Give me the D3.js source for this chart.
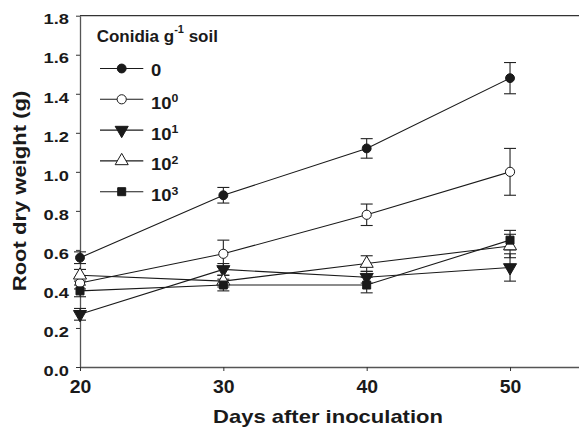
<!DOCTYPE html>
<html>
<head>
<meta charset="utf-8">
<script src="https://cdn.jsdelivr.net/npm/d3@7"></script>
<style>
  body { margin: 0; background: #fff; }
  svg { display: block; font-family: "Liberation Sans", Arial, Helvetica, sans-serif; font-weight: bold; }
</style>
</head>
<body>
<svg id="chart" width="579" height="427"></svg>
<script>
// data
var days = [20, 30, 40, 50];
var xTicks = [20, 30, 40, 50];
var yTicks = [0, 0.2, 0.4, 0.6, 0.8, 1.0, 1.2, 1.4, 1.6, 1.8];
var seriesBase = ["0", "10", "10", "10", "10"];
var seriesExp = ["", "0", "1", "2", "3"];
var mean0 = [0.56, 0.88, 1.12, 1.48];
var err0 = [0.03, 0.04, 0.05, 0.08];
var mean1 = [0.43, 0.58, 0.78, 1.00];
var err1 = [0.03, 0.07, 0.055, 0.12];
var mean2 = [0.27, 0.50, 0.46, 0.51];
var err2 = [0.03, 0.03, 0.03, 0.07];
var mean3 = [0.47, 0.44, 0.53, 0.62];
var err3 = [0.03, 0.03, 0.04, 0.06];
var mean4 = [0.39, 0.42, 0.42, 0.65];
var err4 = [0.03, 0.03, 0.04, 0.05];

var means = [mean0, mean1, mean2, mean3, mean4];
var errs = [err0, err1, err2, err3, err4];
var shapes = [d3.symbolCircle, d3.symbolCircle, d3.symbolTriangle, d3.symbolTriangle, d3.symbolSquare];
var sizes = [62, 66, 74, 74, 64];
var filled = [true, false, true, false, true];
var rotate = [0, 0, 180, 0, 0];

var svg = d3.select("#chart");
var x = d3.scaleLinear().domain([20, 55]).range([80, 581.7]);
var y = d3.scaleLinear().domain([0, 1.8]).range([367, 15.7]);
var ink = "#1a1a1a";
var axisCol = "#555";

// axes
var yAxis = svg.append("g")
  .attr("transform", "translate(80,0)")
  .call(d3.axisLeft(y).tickValues(yTicks).tickFormat(d3.format(".1f")).tickSize(4).tickSizeOuter(0));
yAxis.selectAll("text")
  .attr("x", -9).attr("dy", "0.55em")
  .attr("transform", "scale(1.22,1)")
  .style("font-size", "15px").style("fill", ink);

var xAxis = svg.append("g")
  .attr("transform", "translate(0,367)")
  .call(d3.axisBottom(x).tickValues(xTicks).tickSize(4).tickSizeOuter(0));
xAxis.selectAll("text")
  .attr("y", 26).attr("dy", 0).attr("x", 0)
  .attr("transform", "scale(1.05,1)")
  .style("font-size", "18.5px").style("fill", ink);

svg.selectAll(".domain").attr("stroke", axisCol).attr("stroke-width", 1.3);
svg.selectAll(".tick line").attr("stroke", "#333");

// top spine
svg.append("line")
  .attr("x1", x(20)).attr("x2", x(55))
  .attr("y1", y(1.8)).attr("y2", y(1.8))
  .attr("stroke", "#333").attr("stroke-width", 1.3);

// axis titles
svg.append("text")
  .attr("transform", "translate(328,422.5) scale(1.19,1)")
  .attr("text-anchor", "middle")
  .style("font-size", "18.5px").style("fill", ink)
  .text("Days after inoculation");

svg.append("text")
  .attr("transform", "translate(25.5,191) rotate(-90) scale(1.19,1)")
  .attr("text-anchor", "middle")
  .style("font-size", "18.5px").style("fill", ink)
  .text("Root dry weight (g)");

// lines
var line = d3.line()
  .x(function(d, i) { return x(days[i]); })
  .y(function(d) { return y(d); });

means.forEach(function(m) {
  svg.append("path")
    .datum(m)
    .attr("fill", "none")
    .attr("stroke", ink)
    .attr("stroke-width", 1.1)
    .attr("d", line);
});

// error bars
means.forEach(function(m, s) {
  var g = svg.append("g").attr("stroke", "#222").attr("stroke-width", 1.1);
  m.forEach(function(v, i) {
    var cx = x(days[i]), hi = y(v + errs[s][i]), lo = y(v - errs[s][i]);
    g.append("line").attr("x1", cx).attr("x2", cx).attr("y1", hi).attr("y2", lo);
    g.append("line").attr("x1", cx - 6).attr("x2", cx + 6).attr("y1", hi).attr("y2", hi);
    g.append("line").attr("x1", cx - 6).attr("x2", cx + 6).attr("y1", lo).attr("y2", lo);
  });
});

// markers
function marker(sel, s) {
  sel.attr("d", d3.symbol().type(shapes[s]).size(sizes[s]))
    .attr("fill", filled[s] ? ink : "#fff")
    .attr("stroke", ink)
    .attr("stroke-width", 1);
}

means.forEach(function(m, s) {
  svg.append("g").selectAll("path")
    .data(m)
    .join("path")
    .attr("transform", function(d, i) {
      return "translate(" + x(days[i]) + "," + y(d) + ") rotate(" + rotate[s] + ")";
    })
    .call(marker, s);
});

// legend
var legendTitle = svg.append("text")
  .attr("x", 96.7).attr("y", 41.7)
  .style("font-size", "17px").style("fill", ink);
legendTitle.append("tspan").text("Conidia g");
legendTitle.append("tspan").attr("dy", -8.5).style("font-size", "11px").text("-1");
legendTitle.append("tspan").attr("dy", 8.5).text(" soil");

seriesBase.forEach(function(b, s) {
  var ly = 68.5 + s * 30.8;
  svg.append("line")
    .attr("x1", 100).attr("x2", 143.3)
    .attr("y1", ly).attr("y2", ly)
    .attr("stroke", ink).attr("stroke-width", 1.1);
  svg.append("path")
    .attr("transform", "translate(121.7," + ly + ") rotate(" + rotate[s] + ")")
    .call(marker, s);
  var base = seriesExp[s] === "" ? ly + 7.5 : ly + 9.5;
  var t = svg.append("text")
    .attr("transform", "translate(151," + base + ") scale(1.12,1)")
    .style("font-size", "16.5px").style("fill", ink);
  t.append("tspan").text(b);
  if (seriesExp[s] !== "") {
    t.append("tspan").attr("dy", -6.5).style("font-size", "11px").text(seriesExp[s]);
  }
});
</script>
</body>
</html>
